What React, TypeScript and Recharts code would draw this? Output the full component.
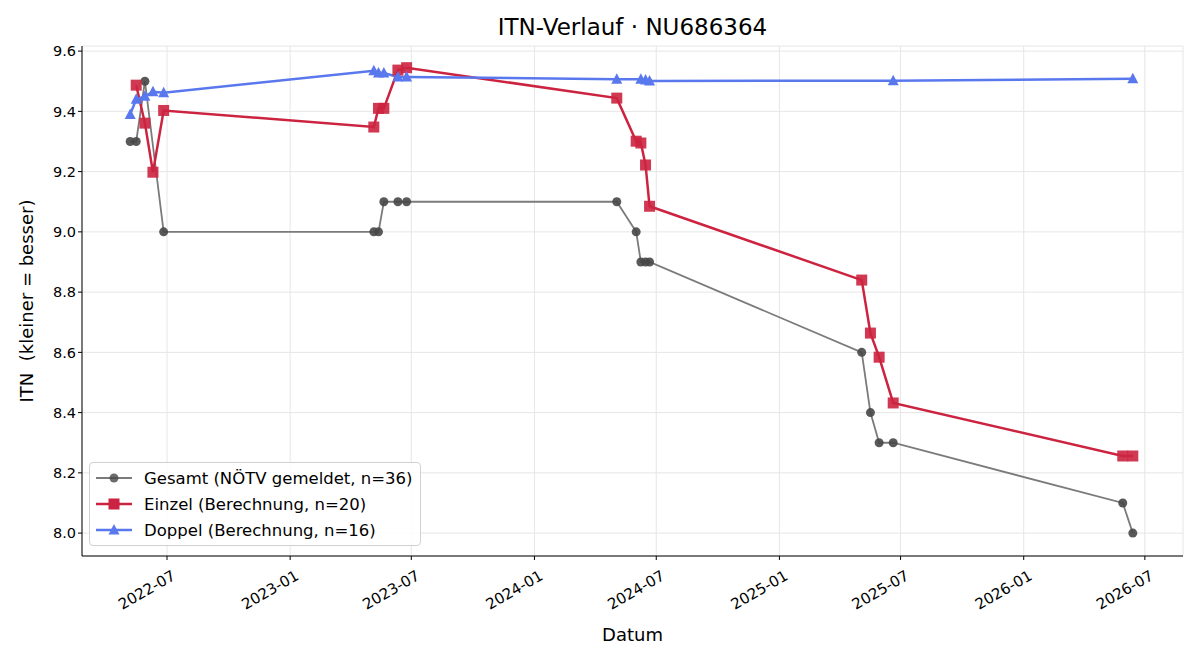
import React from 'react';
import {
  LineChart, Line, XAxis, YAxis, CartesianGrid, Label,
} from 'recharts';

// Spieltermine (ISO-Datum) und ITN-Werte je Serie
const gesamtDates = [
  '2022-05-07', '2022-05-16', '2022-05-29', '2022-06-26',
  '2023-05-06', '2023-05-13', '2023-05-21', '2023-06-11', '2023-06-24',
  '2024-05-03', '2024-06-01', '2024-06-08', '2024-06-15', '2024-06-21',
  '2025-05-04', '2025-05-17', '2025-05-30', '2025-06-20',
  '2026-05-29', '2026-06-13',
];
const gesamtValues = [
  9.3, 9.3, 9.5, 9.0,
  9.0, 9.0, 9.1, 9.1, 9.1,
  9.1, 9.0, 8.9, 8.9, 8.9,
  8.6, 8.4, 8.3, 8.3,
  8.1, 8.0,
];

const einzelDates = [
  '2022-05-16', '2022-05-29', '2022-06-10', '2022-06-26',
  '2023-05-06', '2023-05-13', '2023-05-21', '2023-06-11', '2023-06-24',
  '2024-05-03', '2024-06-01', '2024-06-08', '2024-06-15', '2024-06-21',
  '2025-05-04', '2025-05-17', '2025-05-30', '2025-06-20',
  '2026-05-29', '2026-06-13',
];
const einzelValues = [
  9.487, 9.361, 9.198, 9.403,
  9.348, 9.41, 9.41, 9.537, 9.545,
  9.444, 9.301, 9.295, 9.222, 9.085,
  8.84, 8.664, 8.584, 8.432,
  8.256, 8.256,
];

const doppelDates = [
  '2022-05-07', '2022-05-16', '2022-05-29', '2022-06-10', '2022-06-26',
  '2023-05-06', '2023-05-13', '2023-05-21', '2023-06-11', '2023-06-24',
  '2024-05-03', '2024-06-08', '2024-06-15', '2024-06-21',
  '2025-06-20', '2026-06-13',
];
const doppelValues = [
  9.39, 9.44, 9.45, 9.465, 9.462,
  9.535, 9.527, 9.527, 9.514, 9.514,
  9.507, 9.507, 9.504, 9.501,
  9.502, 9.508,
];

const xTickLabels = [
  '2022-07', '2023-01', '2023-07', '2024-01', '2024-07',
  '2025-01', '2025-07', '2026-01', '2026-07',
];
const yTicks = [8.0, 8.2, 8.4, 8.6, 8.8, 9.0, 9.2, 9.4, 9.6];

const ts = (d: string) => Date.parse(d + 'T00:00:00Z');
const toRows = (dates: string[], values: number[]) =>
  dates.map((d, i) => ({ t: ts(d), v: values[i] }));

const gesamt = toRows(gesamtDates, gesamtValues);
const einzel = toRows(einzelDates, einzelValues);
const doppel = toRows(doppelDates, doppelValues);
const xTicks = xTickLabels.map((m) => ts(m + '-01'));

const X_DOMAIN = [ts('2022-02-24'), ts('2026-08-27')];
const Y_DOMAIN = [7.924, 9.617];

const FONT = '"DejaVu Sans", sans-serif';
const GRAY_LINE = '#7b7b7b';
const GRAY_DOT = '#474747';
const RED = '#cc2340';
const BLUE = '#5a78ee';

const fmtMonth = (t: number) => {
  const d = new Date(t);
  return `${d.getUTCFullYear()}-${String(d.getUTCMonth() + 1).padStart(2, '0')}`;
};

// schräge Datumslabels, rechtsbündig an der Tickmarke
const DateTick = ({ x, y, payload }: any) => (
  <text
    x={x + 4}
    y={y + 7}
    transform={`rotate(-30, ${x + 4}, ${y + 7})`}
    textAnchor="end"
    dominantBaseline="hanging"
    fontSize={15}
    fontFamily={FONT}
    fill="#000"
  >
    {fmtMonth(payload.value)}
  </text>
);

const YLabel = ({ viewBox }: any) => {
  const cy = viewBox.y + viewBox.height / 2;
  return (
    <text
      x={26}
      y={cy}
      transform={`rotate(-90, 26, ${cy})`}
      textAnchor="middle"
      dominantBaseline="central"
      fontSize={18}
      fontFamily={FONT}
      fill="#000"
      style={{ whiteSpace: 'pre' }}
    >
      {'ITN\u00a0\u00a0(kleiner = besser)'}
    </text>
  );
};

const CircleDot = ({ cx, cy, index }: any) =>
  cx == null ? null : (
    <circle key={index} cx={cx} cy={cy} r={4.5} fill={GRAY_DOT} fillOpacity={0.9} stroke="none" />
  );

const SquareDot = ({ cx, cy, index }: any) =>
  cx == null ? null : (
    <rect key={index} x={cx - 5.5} y={cy - 5.5} width={11} height={11} fill={RED} fillOpacity={0.9} />
  );

const TriangleDot = ({ cx, cy, index }: any) =>
  cx == null ? null : (
    <path
      key={index}
      d={`M${cx},${cy - 6} L${cx + 5.5},${cy + 4.5} L${cx - 5.5},${cy + 4.5} Z`}
      fill={BLUE}
    />
  );

const legendItems = [
  { label: 'Gesamt (NÖTV gemeldet, n=36)', color: GRAY_LINE, marker: 'circle' },
  { label: 'Einzel (Berechnung, n=20)', color: RED, marker: 'square' },
  { label: 'Doppel (Berechnung, n=16)', color: BLUE, marker: 'triangle' },
];

const LegendBox = () => (
  <div
    style={{
      position: 'absolute',
      left: 89,
      top: 462,
      width: 318,
      background: 'rgba(255,255,255,0.85)',
      border: '1px solid #d0d0d0',
      borderRadius: 4,
      padding: '2px 6px 2px 6px',
      fontFamily: FONT,
      fontSize: 16.5,
      color: '#000',
      boxSizing: 'content-box',
    }}
  >
    {legendItems.map((it) => (
      <div key={it.label} style={{ display: 'flex', alignItems: 'center', height: 26, whiteSpace: 'nowrap' }}>
        <svg width={36} height={14} style={{ marginRight: 12 }}>
          <line x1={0} y1={7} x2={36} y2={7} stroke={it.color} strokeWidth={it.marker === 'circle' ? 2 : 2.5} />
          {it.marker === 'circle' && <circle cx={18} cy={7} r={4.5} fill={GRAY_DOT} fillOpacity={0.8} />}
          {it.marker === 'square' && <rect x={12.5} y={1.5} width={11} height={11} fill={RED} />}
          {it.marker === 'triangle' && <path d="M18,1 L23.5,11.5 L12.5,11.5 Z" fill={BLUE} />}
        </svg>
        <span>{it.label}</span>
      </div>
    ))}
  </div>
);

export default function App() {
  return (
    <div style={{ position: 'absolute', left: 0, top: 0, width: 1200, height: 660, background: '#fff' }}>
      <div
        style={{
          position: 'absolute', top: 14, left: 82, width: 1101, textAlign: 'center',
          fontFamily: FONT, fontSize: 23, color: '#000', zIndex: 2,
        }}
      >
        ITN-Verlauf · NU686364
      </div>
      <LineChart
        width={1200}
        height={660}
        margin={{ top: 46, right: 17, bottom: 0, left: 0 }}
        style={{ fontFamily: FONT }}
      >
        <CartesianGrid xAxisId="main" yAxisId="main" stroke="#e6e6e6" strokeWidth={1} />
        <XAxis
          xAxisId="main"
          type="number"
          dataKey="t"
          scale="time"
          domain={X_DOMAIN}
          ticks={xTicks}
          allowDataOverflow
          height={104}
          tick={<DateTick />}
          tickSize={4}
          tickLine={{ stroke: '#000' }}
          axisLine={{ stroke: '#000', strokeWidth: 1 }}
        >
          <Label value="Datum" position="insideBottom" offset={19} fontSize={18} fill="#000" fontFamily={FONT} />
        </XAxis>
        <XAxis
          xAxisId="top"
          orientation="top"
          type="number"
          domain={X_DOMAIN}
          height={0}
          tick={false}
          tickLine={false}
          axisLine={{ stroke: '#000' }}
        />
        <YAxis
          yAxisId="main"
          type="number"
          domain={Y_DOMAIN}
          ticks={yTicks}
          allowDataOverflow
          width={82}
          tickFormatter={(v: number) => v.toFixed(1)}
          tick={{ fontSize: 14.5, fill: '#000', fontFamily: FONT }}
          tickSize={4}
          tickLine={{ stroke: '#000' }}
          axisLine={{ stroke: '#000' }}
        >
          <Label content={<YLabel />} />
        </YAxis>
        <YAxis
          yAxisId="right"
          orientation="right"
          type="number"
          domain={Y_DOMAIN}
          width={0}
          tick={false}
          tickLine={false}
          axisLine={{ stroke: '#000' }}
        />
        <Line
          xAxisId="main"
          yAxisId="main"
          data={gesamt}
          dataKey="v"
          name="Gesamt"
          stroke={GRAY_LINE}
          strokeWidth={1.8}
          dot={<CircleDot />}
          activeDot={false}
          isAnimationActive={false}
        />
        <Line
          xAxisId="main"
          yAxisId="main"
          data={einzel}
          dataKey="v"
          name="Einzel"
          stroke={RED}
          strokeWidth={2.5}
          dot={<SquareDot />}
          activeDot={false}
          isAnimationActive={false}
        />
        <Line
          xAxisId="main"
          yAxisId="main"
          data={doppel}
          dataKey="v"
          name="Doppel"
          stroke={BLUE}
          strokeWidth={2.5}
          dot={<TriangleDot />}
          activeDot={false}
          isAnimationActive={false}
        />
      </LineChart>
      <LegendBox />
    </div>
  );
}
